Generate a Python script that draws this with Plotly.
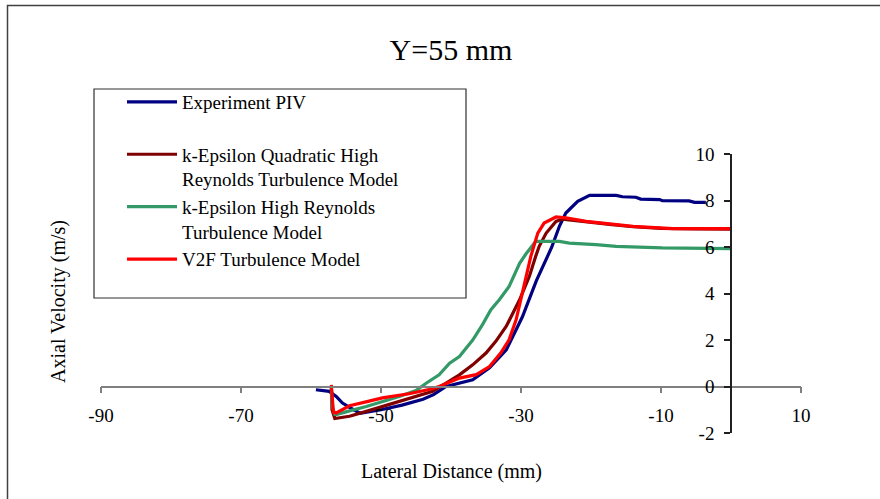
import plotly.graph_objects as go

# ---------------- data ----------------
piv_x = [-59.3, -57.4, -56.4, -55.5, -54.5, -53.0, -50.0, -47.0, -44.0, -42.5, -40.7,
         -38.5, -36.9, -34.5, -32.1, -29.8, -27.8, -25.6, -24.5, -23.6, -22.5, -21.9,
         -20.2, -16.4, -15.5, -13.6, -12.9, -10.2, -9.8, -6.0, -5.2, -3.6]
piv_y = [-0.14, -0.21, -0.43, -0.71, -0.90, -1.15, -1.0, -0.8, -0.55, -0.35, 0.0,
         0.15, 0.29, 0.80, 1.58, 3.0, 4.55, 6.0, 6.9, 7.46, 7.8, 7.96,
         8.22, 8.22, 8.16, 8.14, 8.06, 8.04, 7.99, 7.98, 7.92, 7.92]

keq_x = [-57.1, -57.0, -56.6, -55.5, -54.5, -52.1, -47.4, -42.6, -40.7, -38.8, -36.9,
         -35.0, -33.6, -32.1, -30.2, -28.8, -27.9, -27.4, -26.4, -25.0, -24.1, -22.0,
         -20.0, -17.0, -14.0, -10.0, -5.0, 0.0]
keq_y = [0.0, -1.0, -1.38, -1.33, -1.28, -1.07, -0.64, -0.21, 0.15, 0.5, 0.93,
         1.44, 1.94, 2.59, 3.73, 4.74, 5.6, 6.03, 6.6, 7.1, 7.2, 7.12,
         7.05, 6.96, 6.87, 6.8, 6.78, 6.77]

keh_x = [-57.1, -57.0, -56.6, -56.4, -54.5, -52.1, -47.4, -45.0, -43.5, -41.7, -40.2,
         -38.8, -36.9, -35.5, -34.3, -33.1, -31.7, -30.2, -29.3, -27.9, -24.5, -23.1,
         -19.3, -16.4, -9.8, 0.0]
keh_y = [0.0, -0.8, -1.2, -1.21, -1.05, -0.86, -0.43, -0.17, 0.15, 0.5, 1.0,
         1.29, 2.0, 2.66, 3.3, 3.73, 4.3, 5.3, 5.7, 6.24, 6.24, 6.17,
         6.1, 6.03, 5.96, 5.93]

v2f_x = [-57.1, -57.0, -56.8, -56.4, -54.5, -52.0, -49.8, -46.0, -43.0, -41.7, -38.8,
         -36.4, -34.5, -32.9, -31.7, -30.7, -29.8, -29.2, -28.6, -27.6, -26.7, -25.0,
         -23.6, -20.7, -16.9, -14.0, -8.3, 0.0]
v2f_y = [0.07, -0.5, -1.1, -1.14, -0.83, -0.65, -0.49, -0.31, -0.12, 0.0, 0.36,
         0.51, 0.86, 1.44, 2.01, 2.87, 4.0, 4.9, 5.6, 6.6, 7.03, 7.29,
         7.25, 7.1, 7.0, 6.89, 6.79, 6.79]

names = ["Experiment PIV<br> ",
         "k-Epsilon Quadratic High<br>Reynolds Turbulence Model",
         "k-Epsilon High Reynolds<br>Turbulence Model",
         "V2F Turbulence Model<br> "]
colors = ["#000080", "#800000", "#339966", "#FF0000"]

x_ticks = [-90, -70, -50, -30, -10, 10]
x_ticklabels = ["-90", "-70", "-50", "-30", "-10", "10"]
y_ticks = [-2, 0, 2, 4, 6, 8, 10]
y_ticklabels = ["-2", "0", "2", "4", "6", "8", "10"]
x_range = [-90, 10]
y_range = [-2, 10]

title_text = "Y=55 mm"
x_title = "Lateral Distance (mm)"
y_title = "Axial Velocity (m/s)"

# ---------------- layout helpers ----------------
W, H = 880, 499
PW, PH = 700, 279
L, T = 101, 154
R, B = W - L - PW, H - T - PH


def px2x(px):
    return (px - L) / PW


def py2y(py):
    return (T + PH - py) / PH


FONT = "Liberation Serif, Times New Roman, serif"

fig = go.Figure()
for xs, ys, nm, c in zip([piv_x, keq_x, keh_x, v2f_x], [piv_y, keq_y, keh_y, v2f_y], names, colors):
    fig.add_trace(go.Scatter(x=xs, y=ys, mode="lines", name=nm,
                             line=dict(color=c, width=3.2)))

xpos = (0 - y_range[0]) / (y_range[1] - y_range[0])
ypos = (0 - x_range[0]) / (x_range[1] - x_range[0])

fig.update_layout(
    width=W, height=H, autosize=False,
    margin=dict(l=L, r=R, t=T, b=B),
    paper_bgcolor="white", plot_bgcolor="white",
    font=dict(family=FONT, color="black", size=18),
    title=dict(text=title_text, x=451 / W, xanchor="center",
               y=1 - 49 / H, yanchor="middle", font=dict(size=30, family=FONT)),
    xaxis=dict(range=x_range, tickvals=x_ticks, ticktext=x_ticklabels,
               showgrid=False, zeroline=False,
               showline=True, linecolor="#808080", linewidth=1.5,
               ticks="outside", ticklen=6, tickcolor="#808080", tickwidth=1.5,
               anchor="free", position=xpos, automargin=False,
               ticklabelstandoff=6, tickfont=dict(size=19)),
    yaxis=dict(range=y_range, tickvals=y_ticks, ticktext=y_ticklabels,
               showgrid=False, zeroline=False,
               showline=True, linecolor="#202020", linewidth=1.5,
               ticks="outside", ticklen=6, tickcolor="#202020", tickwidth=1.5,
               anchor="free", position=ypos, automargin=False,
               ticklabelstandoff=6, tickfont=dict(size=19)),
    legend=dict(x=px2x(122), y=py2y(83), xanchor="left", yanchor="top",
                bgcolor="rgba(0,0,0,0)", borderwidth=0, valign="top",
                font=dict(size=19, family=FONT), itemwidth=50,
                tracegroupgap=0),
    showlegend=True,
)

fig.add_annotation(text=x_title, xref="paper", yref="paper", x=0.5, y=py2y(471),
                   showarrow=False, font=dict(size=20, family=FONT),
                   xanchor="center", yanchor="middle")
fig.add_annotation(text=y_title, xref="paper", yref="paper", x=px2x(58), y=py2y(302),
                   showarrow=False, textangle=-90, font=dict(size=20, family=FONT),
                   xanchor="center", yanchor="middle")

# legend frame
fig.add_shape(type="rect", xref="paper", yref="paper",
              x0=px2x(94), x1=px2x(466), y0=py2y(298), y1=py2y(89),
              line=dict(color="#303030", width=1.2), layer="below")
# outer chart frame
fig.add_shape(type="rect", xref="paper", yref="paper",
              x0=px2x(7.5), x1=px2x(900), y0=py2y(520), y1=py2y(5.5),
              line=dict(color="#404040", width=1.5), layer="below")

# remove the default page margin so the figure sits at the window's origin
fig.write_html("out.html", config={"displayModeBar": False},
               post_script="document.body.style.margin='0';")
